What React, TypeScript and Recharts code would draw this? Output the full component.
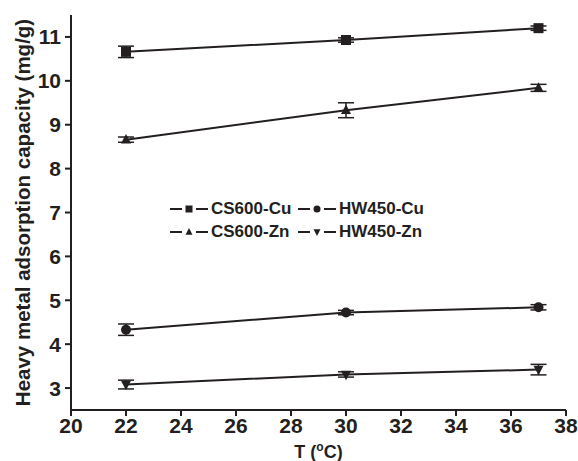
import React from 'react';
import { LineChart, Line, XAxis, YAxis, ErrorBar, Legend } from 'recharts';

// Adsorption capacity vs temperature, four sorbent/metal series with SD bars.
const T_VALUES = [22, 30, 37];
const X_TICKS = [20, 22, 24, 26, 28, 30, 32, 34, 36, 38];
const Y_TICKS = [3, 4, 5, 6, 7, 8, 9, 10, 11];

const CS600_CU = [10.66, 10.93, 11.2];
const CS600_CU_ERR = [0.13, 0.05, 0.05];
const CS600_ZN = [8.66, 9.33, 9.84];
const CS600_ZN_ERR = [0.06, 0.17, 0.08];
const HW450_CU = [4.33, 4.72, 4.84];
const HW450_CU_ERR = [0.13, 0.05, 0.06];
const HW450_ZN = [3.08, 3.31, 3.42];
const HW450_ZN_ERR = [0.1, 0.06, 0.12];

const INK = '#231f20';
const FONT = '"Liberation Sans", Arial, Helvetica, sans-serif';

type Shape = 'square' | 'circle' | 'up' | 'down';

const SERIES: { key: string; name: string; shape: Shape }[] = [
  { key: 'cs600cu', name: 'CS600-Cu', shape: 'square' },
  { key: 'hw450cu', name: 'HW450-Cu', shape: 'circle' },
  { key: 'cs600zn', name: 'CS600-Zn', shape: 'up' },
  { key: 'hw450zn', name: 'HW450-Zn', shape: 'down' },
];

const data = T_VALUES.map((t, i) => ({
  t,
  cs600cu: CS600_CU[i],
  cs600cuErr: CS600_CU_ERR[i],
  cs600zn: CS600_ZN[i],
  cs600znErr: CS600_ZN_ERR[i],
  hw450cu: HW450_CU[i],
  hw450cuErr: HW450_CU_ERR[i],
  hw450zn: HW450_ZN[i],
  hw450znErr: HW450_ZN_ERR[i],
}));

function marker(shape: Shape, cx: number, cy: number, s: number, key?: string) {
  if (shape === 'square') {
    return <rect key={key} x={cx - s / 2} y={cy - s / 2} width={s} height={s} fill={INK} />;
  }
  if (shape === 'circle') {
    return <circle key={key} cx={cx} cy={cy} r={s / 2} fill={INK} />;
  }
  const h = s * 0.95;
  if (shape === 'up') {
    return (
      <polygon
        key={key}
        points={`${cx},${cy - h * 0.6} ${cx + s / 2},${cy + h * 0.4} ${cx - s / 2},${cy + h * 0.4}`}
        fill={INK}
      />
    );
  }
  return (
    <polygon
      key={key}
      points={`${cx},${cy + h * 0.6} ${cx + s / 2},${cy - h * 0.4} ${cx - s / 2},${cy - h * 0.4}`}
      fill={INK}
    />
  );
}

const makeDot = (shape: Shape) => (props: any) => {
  const { cx, cy, index } = props;
  if (cx == null || cy == null) return <g key={`d-${index}`} />;
  return marker(shape, cx, cy, 10, `d-${shape}-${index}`);
};

function LegendBox() {
  const item = (s: (typeof SERIES)[number]) => (
    <div key={s.key} style={{ display: 'flex', alignItems: 'center', height: 23 }}>
      <svg width={38} height={14} style={{ marginRight: 3 }}>
        <line x1={0} y1={7} x2={12} y2={7} stroke={INK} strokeWidth={2} />
        <line x1={26} y1={7} x2={38} y2={7} stroke={INK} strokeWidth={2} />
        {marker(s.shape, 19, 7, 7)}
      </svg>
      <span>{s.name}</span>
    </div>
  );
  return (
    <div
      style={{
        display: 'grid',
        gridTemplateColumns: '128px auto',
        fontFamily: FONT,
        fontWeight: 'bold',
        fontSize: 17,
        color: INK,
        lineHeight: 1,
      }}
    >
      {SERIES.map(item)}
    </div>
  );
}

export default function App() {
  return (
    <div style={{ position: 'absolute', left: 0, top: 0, width: 578, height: 461, background: '#fff' }}>
      <LineChart width={578} height={461} data={data} margin={{ top: 15, right: 12, bottom: 0, left: 0 }}>
        <XAxis
          dataKey="t"
          type="number"
          domain={[20, 38]}
          ticks={X_TICKS}
          allowDataOverflow
          height={51}
          tickSize={6}
          tickMargin={2}
          axisLine={{ stroke: INK, strokeWidth: 2 }}
          tickLine={{ stroke: INK, strokeWidth: 2 }}
          tick={{ fill: INK, fontSize: 21, fontWeight: 'bold', fontFamily: FONT }}
          label={{
            content: (p: any) => {
              const vb = p.viewBox || {};
              const cx = vb.x + vb.width / 2;
              return (
                <text x={cx} y={458} textAnchor="middle" fill={INK} fontFamily={FONT} fontWeight="bold" fontSize={18}>
                  T (
                  <tspan fontSize={12} dy={-7}>o</tspan>
                  <tspan dy={7}>C)</tspan>
                </text>
              );
            },
          }}
        />
        <YAxis
          type="number"
          domain={[2.5, 11.5]}
          ticks={Y_TICKS}
          allowDataOverflow
          width={71}
          tickSize={6}
          tickMargin={4}
          axisLine={{ stroke: INK, strokeWidth: 2 }}
          tickLine={{ stroke: INK, strokeWidth: 2 }}
          tick={{ fill: INK, fontSize: 21, fontWeight: 'bold', fontFamily: FONT }}
          label={{
            content: (p: any) => {
              const vb = p.viewBox || {};
              const cy = vb.y + vb.height / 2;
              return (
                <text
                  x={22}
                  y={cy}
                  transform={`rotate(-90, 22, ${cy})`}
                  textAnchor="middle"
                  dominantBaseline="central"
                  fill={INK}
                  fontFamily={FONT}
                  fontWeight="bold"
                  fontSize={20.5}
                >
                  Heavy metal adsorption capacity (mg/g)
                </text>
              );
            },
          }}
        />
        <Legend
          layout="horizontal"
          verticalAlign="middle"
          align="center"
          content={() => <LegendBox />}
          wrapperStyle={{ left: 170, top: 197, width: 'auto', height: 'auto' }}
        />
        {SERIES.map((s) => (
          <Line
            key={s.key}
            dataKey={s.key}
            name={s.name}
            stroke={INK}
            strokeWidth={2}
            dot={makeDot(s.shape)}
            activeDot={false}
            isAnimationActive={false}
          >
            <ErrorBar dataKey={`${s.key}Err`} width={8} strokeWidth={1.5} stroke={INK} direction="y" />
          </Line>
        ))}
      </LineChart>
    </div>
  );
}
